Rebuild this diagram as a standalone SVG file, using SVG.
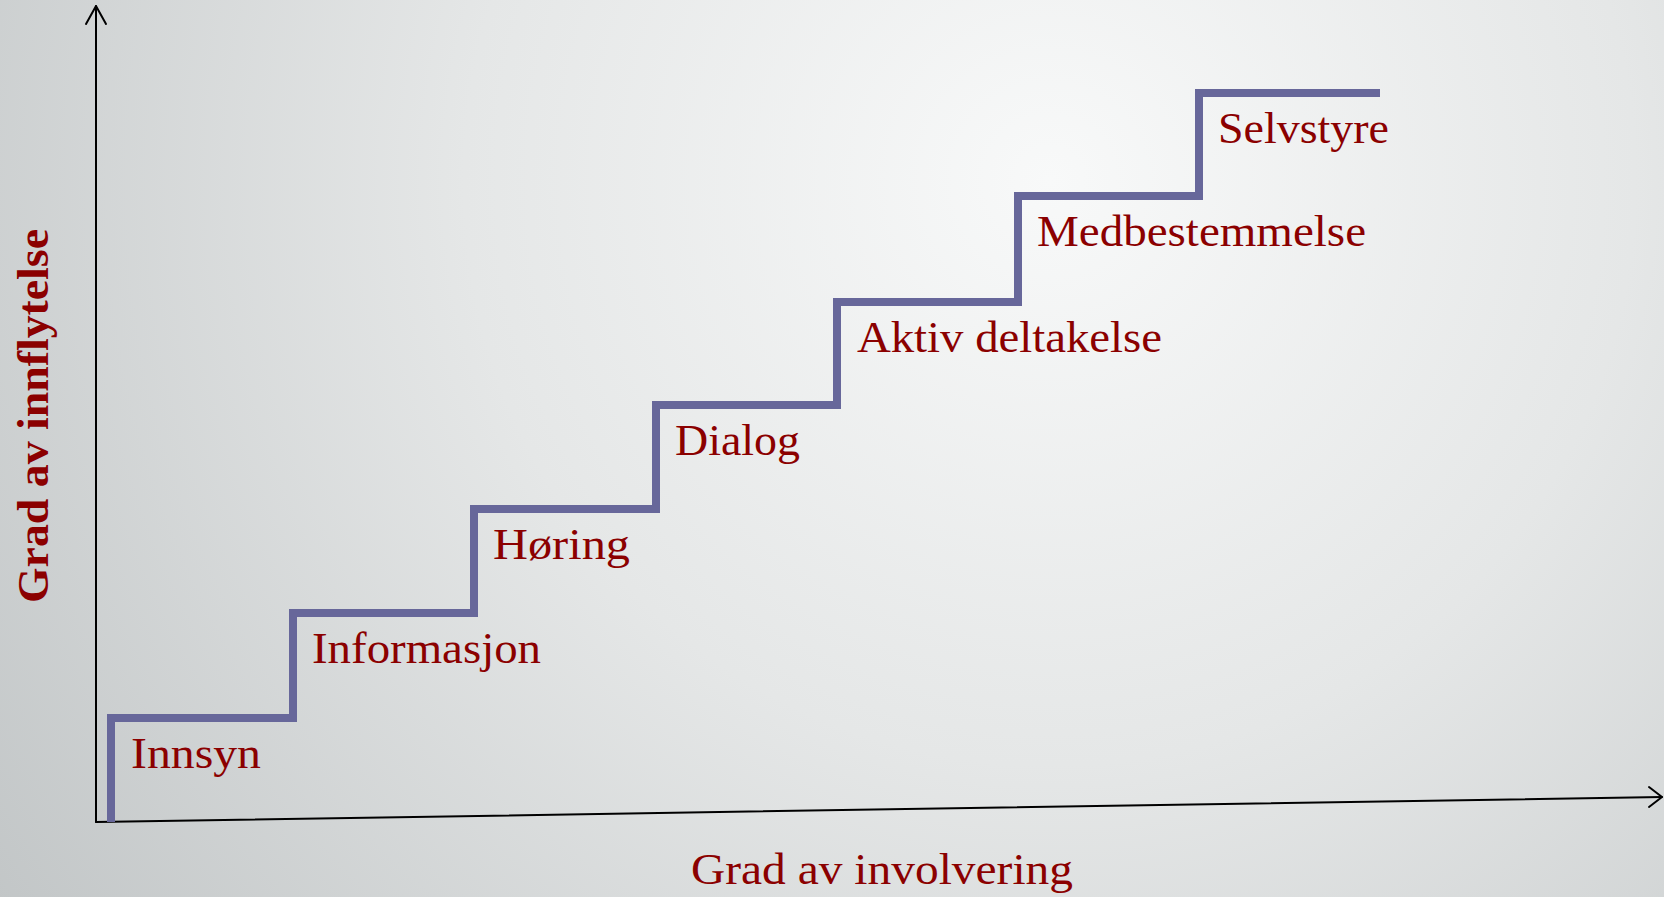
<svg xmlns="http://www.w3.org/2000/svg" width="1664" height="897" viewBox="0 0 1664 897">
  <defs>
    <radialGradient id="bg" gradientUnits="userSpaceOnUse" cx="1050" cy="180" r="1300">
      <stop offset="0" stop-color="#f8f9f9"/>
      <stop offset="0.45" stop-color="#e5e7e7"/>
      <stop offset="1" stop-color="#c1c5c6"/>
    </radialGradient>
  </defs>
  <style>
    .axis { fill: none; stroke: #000; stroke-width: 2; stroke-linecap: round; stroke-linejoin: round; }
    .stair { fill: none; stroke: #67679a; stroke-width: 8; stroke-linejoin: miter; }
    .step { font-family: "Liberation Serif", "Times New Roman", serif; font-size: 44px; fill: #8b0000; }
    .axislabel { font-family: "Liberation Serif", "Times New Roman", serif; font-size: 45px; fill: #8b0000; }
  </style>

  <rect x="0" y="0" width="1664" height="897" fill="url(#bg)"/>

  <!-- axes -->
  <g id="connectors">
    <path class="axis" d="M96,822 L96,6"/>
    <path class="axis" d="M86,24 L96,6 L106,24"/>
    <path class="axis" d="M96,822 L1662,797"/>
    <path class="axis" d="M1649,787 L1662,797 L1649,807"/>
    <!-- staircase -->
    <path class="stair" d="M111,822 L111,718 L293,718 L293,613 L474,613 L474,509 L656,509 L656,405 L837,405 L837,302 L1018,302 L1018,196 L1199,196 L1199,93 L1380,93"/>
  </g>

  <g id="step-innsyn"><text class="step" x="131" y="768" textLength="130" lengthAdjust="spacingAndGlyphs">Innsyn</text></g>
  <g id="step-informasjon"><text class="step" x="312" y="663" textLength="229" lengthAdjust="spacingAndGlyphs">Informasjon</text></g>
  <g id="step-horing"><text class="step" x="493" y="559" textLength="137" lengthAdjust="spacingAndGlyphs">Høring</text></g>
  <g id="step-dialog"><text class="step" x="675" y="455" textLength="125" lengthAdjust="spacingAndGlyphs">Dialog</text></g>
  <g id="step-aktiv"><text class="step" x="857" y="352" textLength="305" lengthAdjust="spacingAndGlyphs">Aktiv deltakelse</text></g>
  <g id="step-medbestemmelse"><text class="step" x="1037" y="246" textLength="329" lengthAdjust="spacingAndGlyphs">Medbestemmelse</text></g>
  <g id="step-selvstyre"><text class="step" x="1218" y="143" textLength="171" lengthAdjust="spacingAndGlyphs">Selvstyre</text></g>

  <g id="label-x"><text class="axislabel" x="691" y="884" textLength="382" lengthAdjust="spacingAndGlyphs">Grad av involvering</text></g>
  <g id="label-y"><text class="axislabel" font-weight="bold" transform="translate(48,603) rotate(-90)" x="0" y="0" textLength="374" lengthAdjust="spacingAndGlyphs">Grad av innflytelse</text></g>
</svg>
